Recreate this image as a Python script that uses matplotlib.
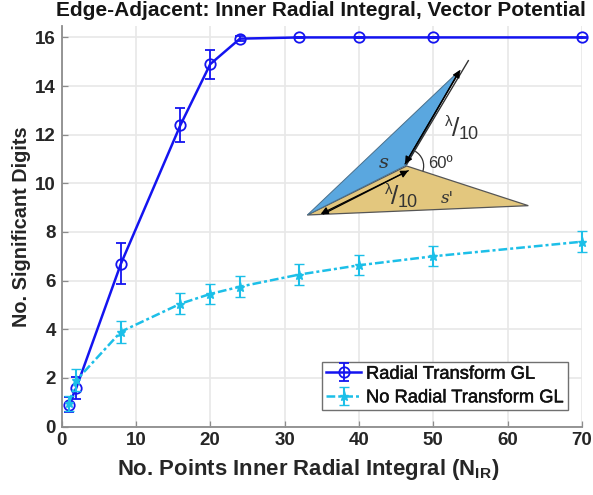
import matplotlib
matplotlib.use("Agg")
import matplotlib.pyplot as plt
import matplotlib.patheffects as pe
from matplotlib.patches import Polygon, Arc

plt.rcParams['font.family'] = ['Liberation Sans', 'DejaVu Sans']
plt.rcParams['mathtext.fontset'] = 'custom'
plt.rcParams['mathtext.bf'] = 'Liberation Sans:bold'

n_points = [1, 2, 8, 16, 20, 24, 32, 40, 50, 70]
radial = [0.9, 1.6, 6.7, 12.4, 14.9, 15.95, 16, 16, 16, 16]
radial_err = [0.3, 0.45, 0.85, 0.68, 0.6, 0.1, 0.02, 0.02, 0.02, 0.02]
no_radial = [0.95, 1.9, 3.9, 5.05, 5.45, 5.75, 6.25, 6.63, 7.0, 7.6]
no_radial_err = [0.3, 0.45, 0.45, 0.42, 0.42, 0.42, 0.42, 0.42, 0.42, 0.42]
x_ticks = [0, 10, 20, 30, 40, 50, 60, 70]
y_ticks = [0, 2, 4, 6, 8, 10, 12, 14, 16]

BLUE = '#1414f0'
CYAN = '#1cbfe8'
DARK = '#262626'

W, H = 593, 495
fig = plt.figure(figsize=(W / 100, H / 100), dpi=100)
ax = fig.add_axes([61.5 / W, 1 - 426.5 / H, 520.5 / W, 400.5 / H])
ax.set_xlim(0, 70)
ax.set_ylim(0, 16.47)

ax.errorbar(n_points, radial, yerr=radial_err, color=BLUE, lw=1.8, marker='o', ms=7.5,
            mfc='none', mew=1.3, capsize=3.6, capthick=1.3, elinewidth=1.3,
            label='Radial Transform GL', clip_on=False, zorder=3)
ax.errorbar(n_points, no_radial, yerr=no_radial_err, color=CYAN, lw=1.8, ls=(0, (3.5, 1.2, 1.2, 1.2)),
            marker='*', ms=6.5, mew=1.0, capsize=3.6, capthick=1.5, elinewidth=1.5,
            label='No Radial Transform GL', clip_on=False, zorder=4)

ax.set_xticks(x_ticks)
ax.set_yticks(y_ticks)
ax.grid(True, color='#e8e8e8', lw=1.2)
ax.set_axisbelow(True)
for s in ('top', 'right'):
    ax.spines[s].set_visible(False)
for s in ('left', 'bottom'):
    ax.spines[s].set_color('#8c8c8c')
    ax.spines[s].set_linewidth(1.3)
ax.tick_params(direction='in', length=4, width=0.9, color='#8c8c8c', labelcolor=DARK,
               labelsize=13.5, pad=4)
for lab in ax.get_xticklabels() + ax.get_yticklabels():
    lab.set_fontweight('bold')

fig.text(321 / W, 1 - 11 / H, 'Edge-Adjacent: Inner Radial Integral, Vector Potential',
         ha='center', va='center', fontsize=15, fontweight='bold', color='#151515')
fig.text(308 / W, 1 - 470 / H, r'No. Points Inner Radial Integral (N$_{\mathbf{IR}}$)',
         ha='center', va='center', fontsize=15.9, fontweight='bold', color=DARK)
ax.set_ylabel('No. Significant Digits', fontsize=14.3, fontweight='bold', color=DARK, labelpad=3)

leg = ax.legend(loc='lower left', bbox_to_anchor=((322 - 61.5) / 520.5, (426.5 - 410) / 400.5),
                borderaxespad=0, fontsize=13.2, fancybox=False, framealpha=1, edgecolor='#707070',
                handlelength=1.95, handletextpad=0.25, labelspacing=0.36, borderpad=0.2)
leg.get_frame().set_linewidth(1.0)
leg.set_zorder(6)
for t in leg.get_texts():
    t.set_color('#111111')
    t.set_path_effects([pe.withStroke(linewidth=0.35, foreground='#111111')])

# Inset sketch, placed in pixel positions of the figure
ov = fig.add_axes([0, 0, 1, 1], zorder=3)
ov.set_xlim(0, W)
ov.set_ylim(H, 0)
ov.axis('off')
ov.patch.set_alpha(0)

def pz(x, y):
    return 290 + x / 3, 40 + y / 3

ov.add_patch(Polygon([pz(52, 525), pz(350, 378), pz(715, 497)], fc='#e3c77e', ec='#555555', lw=0.9))
ov.add_patch(Polygon([pz(52, 525), pz(505, 95), pz(350, 375)], fc='#5aa7df', ec='#4a6f8a', lw=0.7))
ov.plot(*zip(pz(535, 62), pz(350, 372)), color='#333333', lw=1.0)
arrow = dict(arrowstyle='-|>', color='black', lw=0.9, mutation_scale=11, shrinkA=0, shrinkB=0)
ov.annotate('', xy=pz(345, 372), xytext=pz(510, 92), arrowprops=arrow)
ov.annotate('', xy=pz(510, 90), xytext=pz(345, 372), arrowprops=arrow)
ov.annotate('', xy=pz(355, 392), xytext=pz(100, 522), arrowprops=arrow)
ov.annotate('', xy=pz(92, 522), xytext=pz(355, 392), arrowprops=arrow)
cx, cy = pz(350, 378)
ov.add_patch(Arc((cx, cy), 34, 34, theta1=-60, theta2=18, color='#333333', lw=0.9))

def label(x, y, s, size, **kw):
    ov.text(*pz(x, y), s, fontsize=size, ha='center', va='center', color='#333333', **kw)

serif = ['DejaVu Serif']
label(281, 368, 's', 14, family=serif, style='italic')
label(472, 475, "s'", 12, family=serif, style='italic')
label(450, 372, '60º', 12)
label(476, 245, 'λ', 11)
label(497, 268, '/', 19)
label(535, 283, '10', 13)
label(295, 449, 'λ', 11)
label(315, 471, '/', 19)
label(353, 487, '10', 13)

fig.savefig('out.png', dpi=100)
